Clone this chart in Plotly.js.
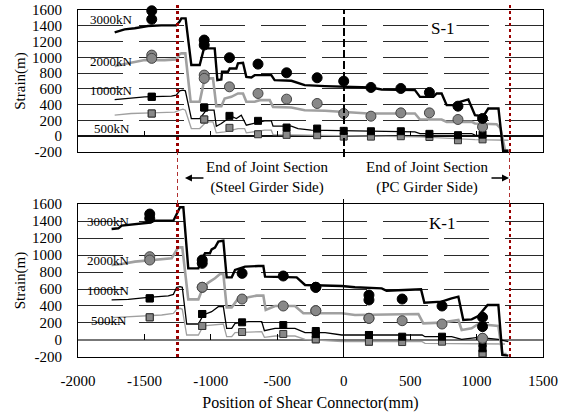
<!DOCTYPE html>
<html><head><meta charset="utf-8">
<script src="https://cdn.plot.ly/plotly-3.0.1.min.js"></script>
<style>html,body{margin:0;padding:0;background:#fff}#chart{width:565px;height:412px}#chart .shapelayer path{shape-rendering:crispEdges}</style>
</head><body><div id="chart"></div>
<script>
// ---------- S-1 (top) ----------
const s1_3000_x = [-1724,-1649,-1573,-1473,-1373,-1260,-1235,-1222,-1190,-1147,-1084,-1052,-971,-951,-921,-916,-871,-858,-808,-796,-758,-733,-695,-670,-545,-520,-394,-344,-294,-141,2,85,203,286,436,536,574,675,700,737,775,825,875,938,988,1051,1088,1165,1200,1240];
const s1_3000_y = [1317,1355,1368,1397,1405,1405,1452,1494,1494,902,902,1113,1113,711,719,817,817,859,859,923,931,753,745,774,774,711,703,677,648,635,626,618,618,593,593,584,499,499,542,542,394,394,436,466,267,254,351,351,-185,-185];
const s1_2000_x = [-1724,-1649,-1573,-1498,-1348,-1260,-1235,-1222,-1192,-1152,-1084,-1047,-984,-959,-921,-896,-846,-796,-758,-733,-670,-633,-557,-532,-394,-294,-141,2,185,536,574,737,775,963,988,1151,1180,1215,1240];
const s1_2000_y = [889,914,944,965,965,974,1041,1050,1050,436,436,733,733,381,381,478,499,542,542,436,436,457,457,372,364,330,322,309,288,288,212,212,182,182,161,152,100,-185,-185];
const s1_1000_x = [-1724,-1624,-1498,-1297,-1260,-1235,-1210,-1192,-1147,-1084,-1034,-976,-959,-921,-884,-846,-808,-771,-733,-670,-595,-545,-532,-394,-344,-244,2,210,536,574,963,988,1240];
const s1_1000_y = [465,478,499,508,521,576,584,576,224,224,330,330,127,161,203,254,224,267,140,161,195,195,127,127,97,76,68,68,55,34,34,13,0];
const s1_500_x = [-1724,-1599,-1448,-1272,-1235,-1210,-1192,-1147,-1084,-1034,-984,-959,-896,-796,-746,-733,-595,-545,-532,-244,2,574,988,1240];
const s1_500_y = [267,288,296,305,330,343,330,97,97,182,182,42,55,97,97,42,76,76,21,13,0,-9,-42,-51];

const s1_gauge_x = [-1445,-1445,-1050,-1050,-860,-645,-430,-200,0,205,430,645,860,1045];
const s1_circ3000 = [1590,1482,1219,1156,995,914,804,741,698,618,605,555,381,225];
const s1_circ2000 = [1028,987,775,733,626,542,470,415,288,254,296,296,212,118];
const s1_sq1000 = [500,500,364,364,258,195,110,97,68,63,63,30,13,20];
const s1_sq500 = [288,288,212,212,106,25,17,13,-5,-5,0,-10,-51,-40];

// ---------- K-1 (bottom) ----------
const k1_3000_x = [-1747,-1696,-1671,-1571,-1471,-1420,-1282,-1257,-1232,-1207,-1170,-1094,-1069,-1044,-1007,-994,-969,-944,-906,-881,-843,-818,-743,-643,-605,-592,-417,-354,-291,-15,85,286,323,536,582,607,737,812,863,900,963,1013,1083,1164,1194,1239];
const k1_3000_y = [1306,1314,1345,1365,1380,1404,1404,1482,1561,1561,843,843,949,1020,1020,1067,1086,1157,1169,737,737,824,863,871,871,745,745,737,647,635,620,608,580,596,596,439,451,490,510,235,243,282,412,412,-176,-184];
const k1_2000_x = [-1747,-1671,-1571,-1420,-1295,-1270,-1245,-1215,-1170,-1094,-1057,-1019,-969,-931,-906,-881,-843,-793,-718,-655,-605,-587,-517,-367,-304,-15,85,562,599,737,863,888,963,1013,1164,1194,1226];
const k1_2000_y = [882,894,922,941,961,1027,1090,1090,478,478,627,675,726,777,777,384,384,490,502,522,522,353,400,400,314,314,294,306,196,204,235,118,137,188,165,-165,-165];
const k1_1000_x = [-1747,-1621,-1471,-1320,-1282,-1257,-1232,-1215,-1182,-1094,-1057,-994,-944,-906,-881,-843,-818,-718,-617,-597,-517,-367,-291,-140,-15,110,590,612,812,888,1013,1164,1239];
const k1_1000_y = [471,478,502,518,537,620,627,620,188,188,294,333,392,392,137,137,196,216,216,110,137,137,86,86,59,59,59,39,39,8,31,8,-20];
const k1_500_x = [-1747,-1571,-1370,-1282,-1257,-1232,-1215,-1182,-1094,-1057,-919,-906,-881,-843,-818,-617,-597,-517,-367,-291,-15,590,612,1214];
const k1_500_y = [263,275,294,314,361,373,361,59,59,165,188,188,39,39,86,98,31,47,47,8,-20,-20,-39,-47];

const k1_gauge_x = [-1460,-1460,-1065,-1065,-765,-455,-210,-210,190,190,440,740,1045,1045];
const k1_circ3000 = [1482,1431,941,902,784,753,620,620,529,471,482,400,267,157];
const k1_circ2000 = [980,941,620,620,482,400,345,345,255,255,227,188,20,20];
const k1_sq1000 = [490,490,306,306,208,176,106,70,59,59,39,39,-39,-98];
const k1_sq500 = [267,267,165,165,94,71,8,8,-20,-20,-24,-20,-157,-157];

// ---------- axes / labels ----------
const xTicks = [-2000,-1500,-1000,-500,0,500,1000,1500];
const yTicks = [-200,0,200,400,600,800,1000,1200,1400,1600];
const loadLabels = ['3000kN','2000kN','1000kN','500kN'];
const s1LabelY = [1485,944,575,97];
const k1LabelY = [1400,941,580,235];
const jointEnds = [-1250,1250];

const FONT = '"Liberation Serif", "Times New Roman", "DejaVu Serif", serif';
const BLACK = '#000000', GRAY = '#a0a0a0';

function line(x,y,color,w,xa,ya){return {type:'scatter',mode:'lines',x:x,y:y,xaxis:xa,yaxis:ya,line:{color:color,width:w},hoverinfo:'skip'};}
function mk(x,y,sym,fill,edge,size,xa,ya){return {type:'scatter',mode:'markers',x:x,y:y,xaxis:xa,yaxis:ya,cliponaxis:false,marker:{symbol:sym,color:fill,size:size,line:{color:edge,width:1}},hoverinfo:'skip'};}

const traces = [
  line(s1_500_x,s1_500_y,GRAY,1.3,'x','y'),
  line(s1_1000_x,s1_1000_y,BLACK,1.3,'x','y'),
  line(s1_2000_x,s1_2000_y,GRAY,2.6,'x','y'),
  line(s1_3000_x,s1_3000_y,BLACK,2.4,'x','y'),
  mk(s1_gauge_x,s1_sq500,'square','#888888','#333333',7,'x','y'),
  mk(s1_gauge_x,s1_sq1000,'square','#000000','#000000',7,'x','y'),
  mk(s1_gauge_x,s1_circ2000,'circle','#888888','#444444',10,'x','y'),
  mk(s1_gauge_x,s1_circ3000,'circle','#000000','#000000',10,'x','y'),
  line(k1_500_x,k1_500_y,GRAY,1.3,'x2','y2'),
  line(k1_1000_x,k1_1000_y,BLACK,1.3,'x2','y2'),
  line(k1_2000_x,k1_2000_y,GRAY,2.6,'x2','y2'),
  line(k1_3000_x,k1_3000_y,BLACK,2.4,'x2','y2'),
  mk(k1_gauge_x,k1_sq500,'square','#888888','#333333',7,'x2','y2'),
  mk(k1_gauge_x,k1_sq1000,'square','#000000','#000000',7,'x2','y2'),
  mk(k1_gauge_x,k1_circ2000,'circle','#888888','#444444',10,'x2','y2'),
  mk(k1_gauge_x,k1_circ3000,'circle','#000000','#000000',10,'x2','y2')
];

const TOP_DOM = [0.5908,1], BOT_DOM = [0,0.4409];

function yax(dom, anchor, zc){
  return {domain:dom, anchor:anchor, range:[-200,1600], tickvals:yTicks, ticktext:yTicks.map(String),
    showgrid:false,
    zeroline:true, zerolinecolor:zc, zerolinewidth:1.5,
    showline:true, mirror:true, linecolor:'#000', linewidth:1,
    ticks:'outside', ticklen:12, tickcolor:'rgba(0,0,0,0)',
    tickfont:{family:FONT,size:15,color:'#000'},
    title:{text:'Strain(m)', font:{family:FONT,size:15,color:'#000'}, standoff:2}};
}

const shapes = [];
// dashed horizontal gridlines from tick values
yTicks.forEach(v=>{
  if(v===yTicks[0] || v===0 || v===yTicks[yTicks.length-1]) return;
  shapes.push({type:'line',layer:'below',xref:'x domain',yref:'y',x0:0,x1:1,y0:v,y1:v,line:{color:'#2a2a2a',width:1,dash:'45px,16px'}});
  shapes.push({type:'line',layer:'below',xref:'x2 domain',yref:'y2',x0:0,x1:1,y0:v,y1:v,line:{color:'#2a2a2a',width:1,dash:'45px,16px'}});
});
jointEnds.forEach(v=>{
  shapes.push({type:'line',xref:'x',yref:'paper',x0:v,x1:v,y0:TOP_DOM[0],y1:1.0144,line:{color:'#990000',width:2.5,dash:'dot'}});
  shapes.push({type:'line',xref:'x2',yref:'paper',x0:v,x1:v,y0:BOT_DOM[0],y1:BOT_DOM[1],line:{color:'#990000',width:2.5,dash:'dot'}});
  shapes.push({type:'line',xref:'x',yref:'paper',x0:v,x1:v,y0:BOT_DOM[1],y1:TOP_DOM[0],line:{color:'#b03030',width:1,dash:'4px,3px'}});
});
shapes.push({type:'line',xref:'x',yref:'y domain',x0:0,x1:0,y0:-0.035,y1:1,line:{color:'#000',width:2,dash:'8px,3px'}});
shapes.push({type:'line',xref:'x2',yref:'y2 domain',x0:0,x1:0,y0:0,y1:1.03,line:{color:'#000',width:1}});
xTicks.slice(1,-1).forEach(v=>{
  if(v===0) return;
  shapes.push({type:'line',xref:'x',yref:'y',x0:v,x1:v,y0:0,y1:70,line:{color:'#000',width:1}});
  shapes.push({type:'line',xref:'x2',yref:'y2',x0:v,x1:v,y0:0,y1:65,line:{color:'#000',width:1}});
});

const annotations = [];
loadLabels.forEach((t,i)=>{
  annotations.push({xref:'x',yref:'y',x:-1745,y:s1LabelY[i],text:t,showarrow:false,font:{family:FONT,size:13,color:'#000'}});
  annotations.push({xref:'x2',yref:'y2',x:-1770,y:k1LabelY[i],text:t,showarrow:false,font:{family:FONT,size:13,color:'#000'}});
});
annotations.push({xref:'x',yref:'y',x:750,y:1367,text:'S-1',showarrow:false,bgcolor:'#fff',font:{family:FONT,size:17,color:'#000'}});
annotations.push({xref:'x2',yref:'y2',x:737,y:1373,text:'K-1',showarrow:false,bgcolor:'#fff',font:{family:FONT,size:17,color:'#000'}});
annotations.push({xref:'x',yref:'paper',x:-570,y:0.5159,text:'End of Joint Section<br>(Steel Girder Side)',showarrow:false,font:{family:FONT,size:15,color:'#000'}});
annotations.push({xref:'x',yref:'paper',x:627,y:0.5159,text:'End of Joint Section<br>(PC Girder Side)',showarrow:false,font:{family:FONT,size:15,color:'#000'}});
annotations.push({xref:'x',yref:'paper',x:-1195,y:0.5159,text:'',showarrow:true,ax:20,ay:0,arrowhead:2,arrowsize:1,arrowwidth:1.4,arrowcolor:'#000'});
annotations.push({xref:'x',yref:'paper',x:1244,y:0.5159,text:'',showarrow:true,ax:-19,ay:0,arrowhead:2,arrowsize:1,arrowwidth:1.4,arrowcolor:'#000'});

const layout = {
  width:565, height:412,
  margin:{l:78,r:22,t:10,b:55},
  paper_bgcolor:'#fff', plot_bgcolor:'#fff',
  showlegend:false,
  font:{family:FONT,size:15,color:'#000'},
  xaxis:{domain:[0,1], anchor:'y', range:[-2000,1500], showticklabels:false, showgrid:false, zeroline:false,
    showline:true, mirror:true, linecolor:'#000', linewidth:1, ticks:''},
  yaxis:yax(TOP_DOM,'x','#111111'),
  xaxis2:{domain:[0,1], anchor:'y2', range:[-2000,1500], tickvals:xTicks, ticktext:xTicks.map(String),
    showgrid:false, zeroline:false, showline:true, mirror:true, linecolor:'#000', linewidth:1,
    ticks:'outside', ticklen:10, tickcolor:'rgba(0,0,0,0)',
    tickfont:{family:FONT,size:15,color:'#000'},
    title:{text:'Position of Shear Connector(mm)', font:{family:FONT,size:16,color:'#000'}, standoff:9}},
  yaxis2:yax(BOT_DOM,'x2','#777777'),
  shapes:shapes, annotations:annotations
};

Plotly.newPlot('chart', traces, layout, {staticPlot:true, displayModeBar:false});
</script></body></html>
